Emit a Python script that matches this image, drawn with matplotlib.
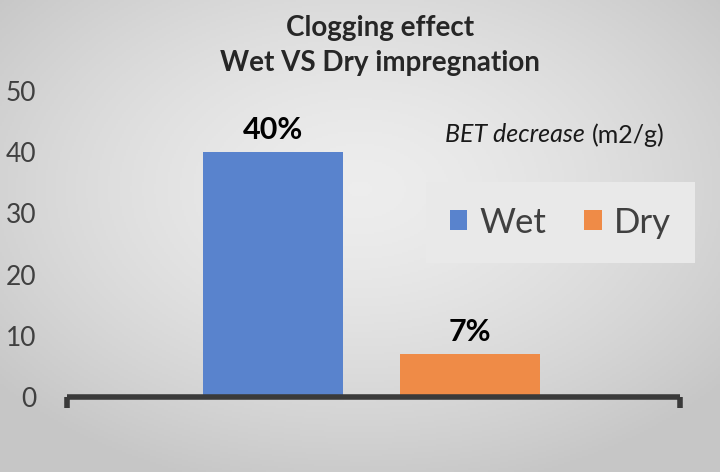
import numpy as np
import matplotlib.pyplot as plt

# данные
series = ['Wet', 'Dry']
values = [40, 7]
labels = ['40%', '7%']
colors = ['#5983CD', '#EF8B47']
yticks = [0, 10, 20, 30, 40, 50]

plt.rcParams['font.family'] = ['Lato', 'DejaVu Sans']

fig = plt.figure(figsize=(7.2, 4.72), dpi=100)

# серый фон с радиальным градиентом
bg = fig.add_axes([0, 0, 1, 1])
xx, yy = np.meshgrid(np.linspace(-1, 1, 360), np.linspace(-1, 1, 236))
rr = np.clip(np.sqrt(xx**2 + (yy + 0.2)**2) / 1.3, 0, 1)
c_in, c_out = 0.93, 0.78
g = c_in + (c_out - c_in) * rr**1.5
img = np.dstack([g, g, g])
bg.imshow(img, aspect='auto', extent=[0, 1, 0, 1], origin='upper')
bg.set_xlim(0, 1)
bg.set_ylim(0, 1)
bg.axis('off')

ax = fig.add_axes([67/720, 1-397/472, 613/720, 306/472])
ax.set_facecolor('none')

pos = [-0.164, 0.157]
ax.bar(pos, values, width=0.228, color=colors, label=series, zorder=3)
for p, v, t in zip(pos, values, labels):
    ax.text(p, v + 1.3, t, ha='center', va='bottom', fontsize=22, fontweight='bold', color='black')

ax.set_xlim(-0.5, 0.5)
ax.set_ylim(0, 50)
ax.set_yticks(yticks)
ax.tick_params(axis='y', length=0, labelsize=19, labelcolor='#404040', pad=22)
ax.set_xticks([])
for s in ['top', 'right', 'left', 'bottom']:
    ax.spines[s].set_visible(False)
# ось X с засечками на концах
ax.plot([-0.5, 0.5], [0, 0], color='#3a3a3a', lw=4, solid_capstyle='butt', clip_on=False, zorder=4)
ax.plot([-0.5, -0.5], [0, -1.8], color='#3a3a3a', lw=4, solid_capstyle='butt', clip_on=False, zorder=4)
ax.plot([0.5, 0.5], [0, -1.8], color='#3a3a3a', lw=4, solid_capstyle='butt', clip_on=False, zorder=4)

fig.text(380/720, 1-28/472, 'Clogging effect', ha='center', va='center', fontsize=20, fontweight='bold', color='#262626')
fig.text(380/720, 1-63/472, 'Wet VS Dry impregnation', ha='center', va='center', fontsize=20, fontweight='bold', color='#262626')

fig.text(445/720, 1-135/472, 'BET decrease', ha='left', va='center', fontsize=18, style='italic', color='#1a1a1a')
fig.text(592/720, 1-135/472, '(m2/g)', ha='left', va='center', fontsize=18, color='#1a1a1a')

leg = ax.legend(loc='center', bbox_to_anchor=(0.805, 0.57), ncol=2, fontsize=25,
                frameon=True, facecolor='#e9e9e9', edgecolor='none', framealpha=1,
                handlelength=0.5, handleheight=0.5, handletextpad=0.35, columnspacing=1.1,
                fancybox=False, borderpad=0.7)
for t in leg.get_texts():
    t.set_color('#404040')

plt.savefig('out.png', dpi=100)
